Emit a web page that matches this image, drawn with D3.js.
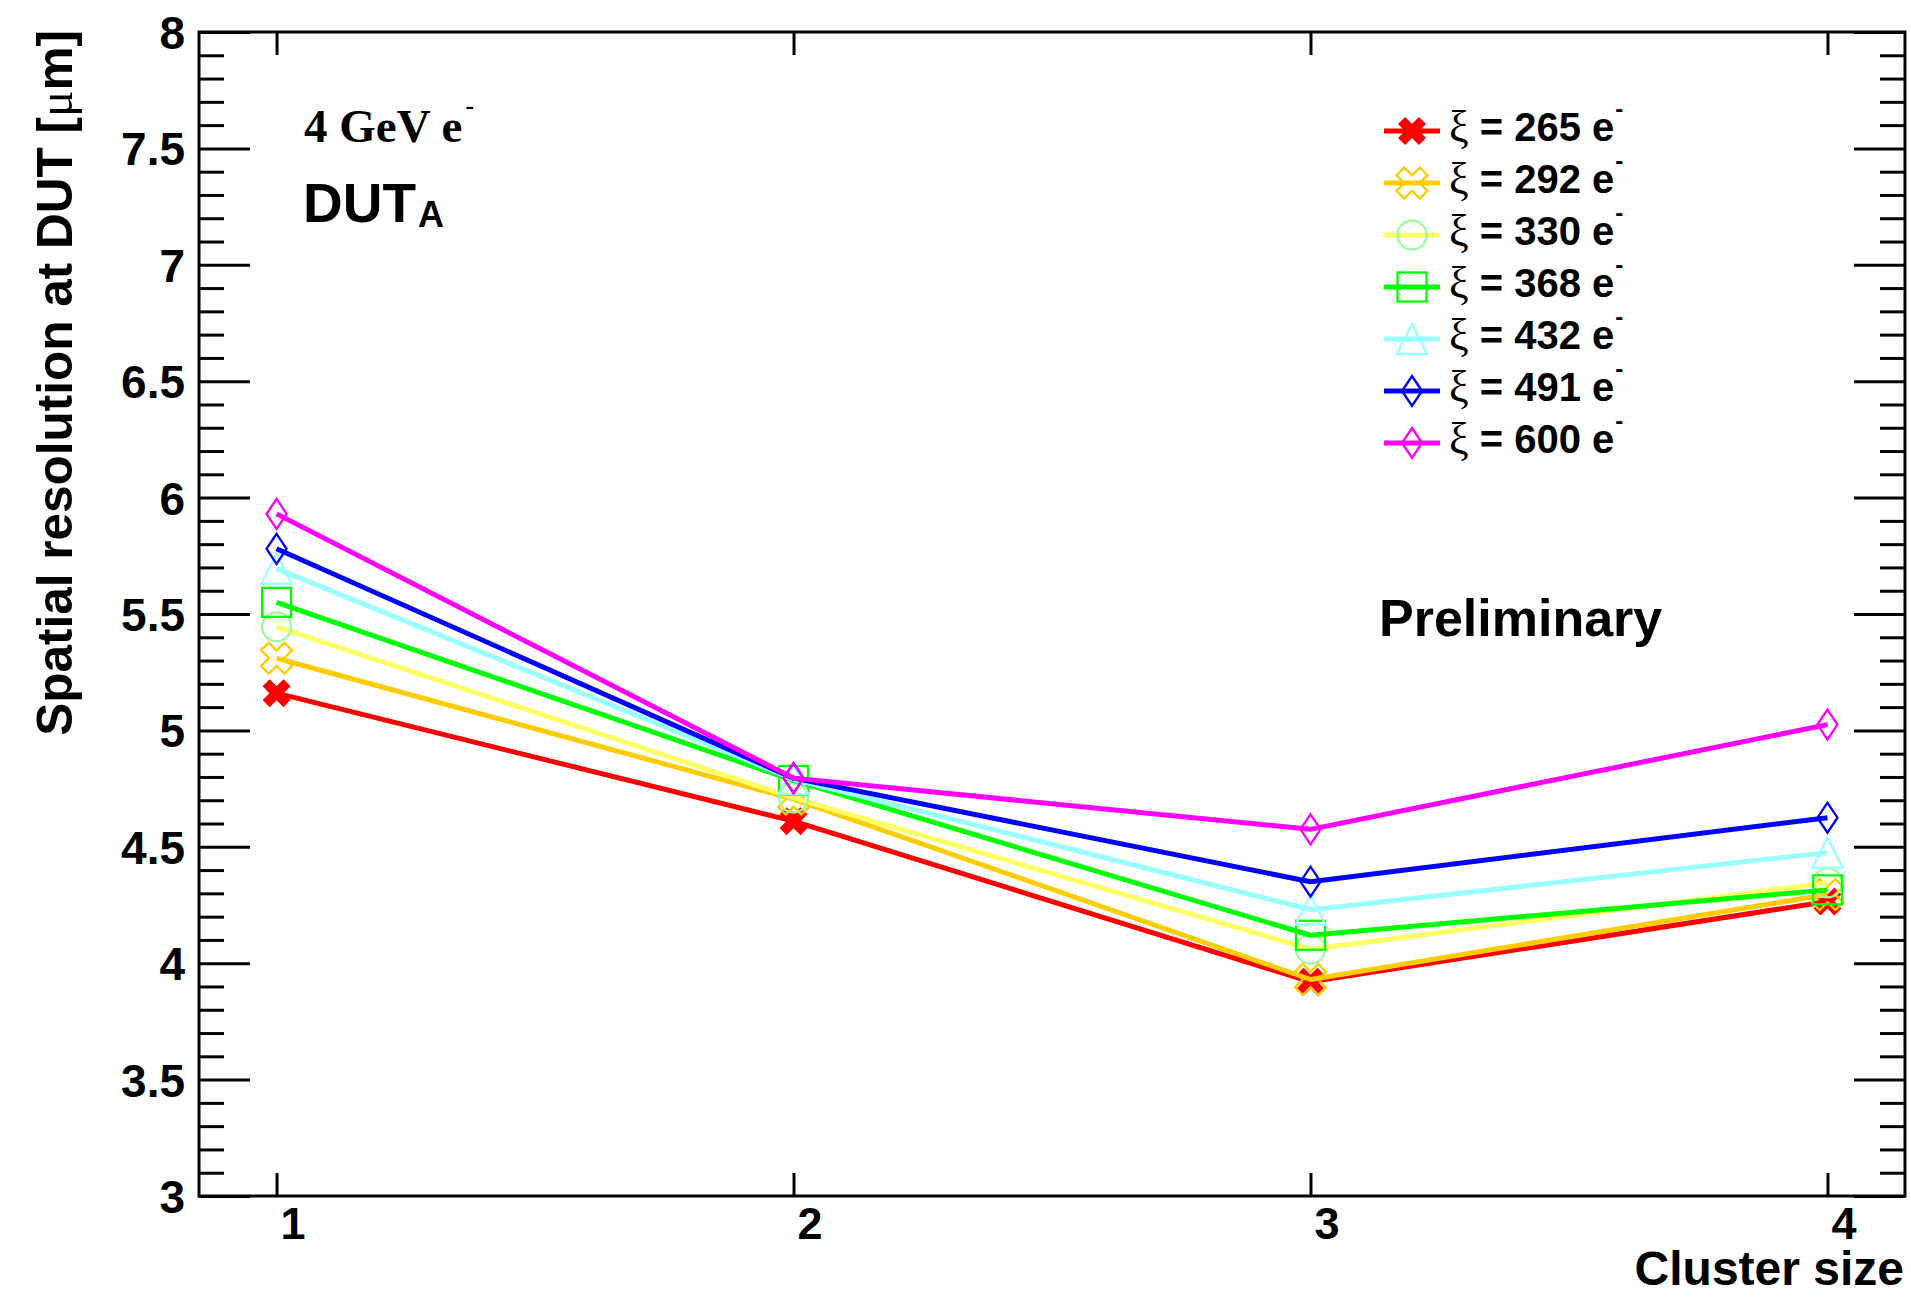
<!DOCTYPE html>
<html>
<head>
<meta charset="utf-8">
<script src="https://cdn.jsdelivr.net/npm/d3@7"></script>
<style>
  html, body { margin: 0; padding: 0; background: #ffffff; }
  svg { display: block; }
  .sans { font-family: "Liberation Sans", Arial, Helvetica, sans-serif; font-weight: bold; }
  .serif { font-family: "Liberation Serif", "Times New Roman", serif; }
</style>
</head>
<body>
<svg id="chart" width="1911" height="1304"></svg>
<script>
// ---------------- data ----------------
const clusterSizes = [1, 2, 3, 4];
const xiValues = ["265", "292", "330", "368", "432", "491", "600"];
const res265 = [5.16, 4.61, 3.92, 4.265];
const res292 = [5.31, 4.705, 3.93, 4.295];
const res330 = [5.445, 4.71, 4.06, 4.345];
const res368 = [5.55, 4.785, 4.12, 4.315];
const res432 = [5.695, 4.79, 4.23, 4.475];
const res491 = [5.78, 4.795, 4.35, 4.625];
const res600 = [5.93, 4.795, 4.575, 5.025];
const yTickLabels = ["3", "3.5", "4", "4.5", "5", "5.5", "6", "6.5", "7", "7.5", "8"];
const xTickLabels = ["1", "2", "3", "4"];

// ---------------- styles ----------------
const seriesValues = [res265, res292, res330, res368, res432, res491, res600];
const lineColors   = ["#ff0000", "#ffcc00", "#ffff66", "#00ff00", "#99ffff", "#0000ff", "#ff00ff"];
const markerColors = ["#ff0000", "#ffcc00", "#99ff99", "#00ff00", "#99ffff", "#0000ff", "#ff00ff"];
const markerShapes = ["xfill", "xopen", "circle", "square", "triangle", "diamond", "diamond"];

const svg = d3.select("#chart");
svg.append("rect").attr("width", 1911).attr("height", 1304).attr("fill", "#fff");

const L = 199, R = 1905, T = 32, B = 1196;
const x = d3.scaleLinear().domain([0.85, 4.15]).range([L, R]);
const y = d3.scaleLinear().domain([3, 8]).range([B, T]);

// ---------------- axes ----------------
const majorY = d3.range(0, 11).map(i => 3 + i * 0.5);
const minorY = d3.range(0, 51).map(i => 3 + i * 0.1).filter(v => Math.abs(v * 2 - Math.round(v * 2)) > 1e-6);

function styleAxis(g) {
  g.select(".domain").remove();
  g.selectAll("line").attr("stroke", "#000").attr("stroke-width", 3);
}

// left axis
svg.append("g").attr("transform", `translate(${L},0)`)
  .call(d3.axisLeft(y).tickValues(minorY).tickSize(-25).tickFormat(""))
  .call(styleAxis);
const leftMajor = svg.append("g").attr("transform", `translate(${L},0)`)
  .call(d3.axisLeft(y).tickValues(majorY).tickSize(-51).tickPadding(14)
        .tickFormat((d, i) => yTickLabels[i]))
  .call(styleAxis);
leftMajor.selectAll("text")
  .attr("class", "sans").attr("font-size", 46).attr("fill", "#000")
  .attr("dy", "0.36em");

// right axis
svg.append("g").attr("transform", `translate(${R},0)`)
  .call(d3.axisRight(y).tickValues(minorY).tickSize(-25).tickFormat(""))
  .call(styleAxis);
svg.append("g").attr("transform", `translate(${R},0)`)
  .call(d3.axisRight(y).tickValues(majorY).tickSize(-51).tickFormat(""))
  .call(styleAxis);

// bottom axis
const bottom = svg.append("g").attr("transform", `translate(0,${B})`)
  .call(d3.axisBottom(x).tickValues(clusterSizes).tickSize(-23)
        .tickFormat((d, i) => xTickLabels[i]))
  .call(styleAxis);
bottom.selectAll("text")
  .attr("class", "sans").attr("font-size", 45).attr("fill", "#000")
  .attr("y", 43).attr("dy", 0).attr("dx", 16);

// top axis
svg.append("g").attr("transform", `translate(0,${T})`)
  .call(d3.axisTop(x).tickValues(clusterSizes).tickSize(-23).tickFormat(""))
  .call(styleAxis);

// frame
svg.append("rect").attr("x", L).attr("y", T).attr("width", R - L).attr("height", B - T)
  .attr("fill", "none").attr("stroke", "#000").attr("stroke-width", 3);

// ---------------- markers ----------------
function crossPath(ext, w) {
  const Lr = ext * Math.SQRT2 - w;
  const pts = [[-w,-Lr],[w,-Lr],[w,-w],[Lr,-w],[Lr,w],[w,w],[w,Lr],[-w,Lr],[-w,w],[-Lr,w],[-Lr,-w],[-w,-w]];
  const r = pts.map(([a, b]) => [(a - b) / Math.SQRT2, (a + b) / Math.SQRT2]);
  return "M" + r.map(p => p[0].toFixed(2) + "," + p[1].toFixed(2)).join("L") + "Z";
}
function drawMarker(g, shape, color, cx, cy) {
  const m = g.append("g").attr("transform", `translate(${cx},${cy})`);
  if (shape === "xfill") {
    m.append("path").attr("d", crossPath(14, 5)).attr("fill", color);
  } else if (shape === "xopen") {
    m.append("path").attr("d", crossPath(15.5, 5.4)).attr("fill", "none")
      .attr("stroke", color).attr("stroke-width", 2.3);
  } else if (shape === "circle") {
    m.append("circle").attr("r", 14.5).attr("fill", "none")
      .attr("stroke", color).attr("stroke-width", 2.3);
  } else if (shape === "square") {
    m.append("rect").attr("x", -14.5).attr("y", -14.5).attr("width", 29).attr("height", 29)
      .attr("fill", "none").attr("stroke", color).attr("stroke-width", 2.3);
  } else if (shape === "triangle") {
    m.append("path").attr("d", "M0,-15L15,15L-15,15Z").attr("fill", "none")
      .attr("stroke", color).attr("stroke-width", 2.3);
  } else if (shape === "diamond") {
    m.append("path").attr("d", "M0,-15L10,0L0,15L-10,0Z").attr("fill", "none")
      .attr("stroke", color).attr("stroke-width", 2.3);
  }
}

// ---------------- series ----------------
const line = d3.line().x((d, i) => x(clusterSizes[i])).y(d => y(d));
seriesValues.forEach((vals, s) => {
  const g = svg.append("g");
  g.append("path").datum(vals).attr("d", line)
    .attr("fill", "none").attr("stroke", lineColors[s]).attr("stroke-width", 5)
    .attr("stroke-linejoin", "round");
  vals.forEach((v, i) => drawMarker(g, markerShapes[s], markerColors[s], x(clusterSizes[i]), y(v)));
});

// ---------------- legend ----------------
const legRow0 = 131, legStep = 52;
xiValues.forEach((xi, s) => {
  const ry = legRow0 + s * legStep;
  const g = svg.append("g");
  g.append("line").attr("x1", 1384).attr("x2", 1440).attr("y1", ry).attr("y2", ry)
    .attr("stroke", lineColors[s]).attr("stroke-width", 5);
  drawMarker(g, markerShapes[s], markerColors[s], 1412, ry);
  const t = g.append("text").attr("x", 1449).attr("y", ry + 10).attr("fill", "#000");
  t.append("tspan").attr("class", "serif").attr("font-size", 44).text("ξ");
  t.append("tspan").attr("class", "sans").attr("font-size", 40).text(" = " + xi + " e");
  t.append("tspan").attr("class", "sans").attr("font-size", 24).attr("dy", -24).attr("dx", 1).text("-");
});

// ---------------- annotations ----------------
const ann = svg.append("text").attr("x", 304).attr("y", 142).attr("fill", "#000")
  .attr("class", "serif").attr("font-weight", "bold").attr("font-size", 47);
ann.append("tspan").text("4 GeV e");
ann.append("tspan").attr("font-size", 26).attr("dy", -28).attr("dx", 3).text("-");

const dut = svg.append("text").attr("x", 303).attr("y", 222).attr("fill", "#000")
  .attr("class", "sans");
dut.append("tspan").attr("font-size", 55).text("DUT");
dut.append("tspan").attr("font-size", 36).attr("dy", 5).attr("dx", 2).text("A");

svg.append("text").attr("x", 1379).attr("y", 636).attr("class", "sans")
  .attr("font-size", 52).attr("fill", "#000").text("Preliminary");

// axis titles
svg.append("text").attr("class", "sans").attr("font-size", 48).attr("fill", "#000")
  .attr("text-anchor", "end").attr("x", 1904).attr("y", 1285).text("Cluster size");

const yt = svg.append("text").attr("class", "sans").attr("font-size", 49.5).attr("fill", "#000")
  .attr("text-anchor", "end")
  .attr("transform", "translate(72,30) rotate(-90)");
yt.append("tspan").text("Spatial resolution at DUT [");
yt.append("tspan").attr("class", "serif").style("font-weight", "normal").text("μ");
yt.append("tspan").text("m]");
</script>
</body>
</html>
